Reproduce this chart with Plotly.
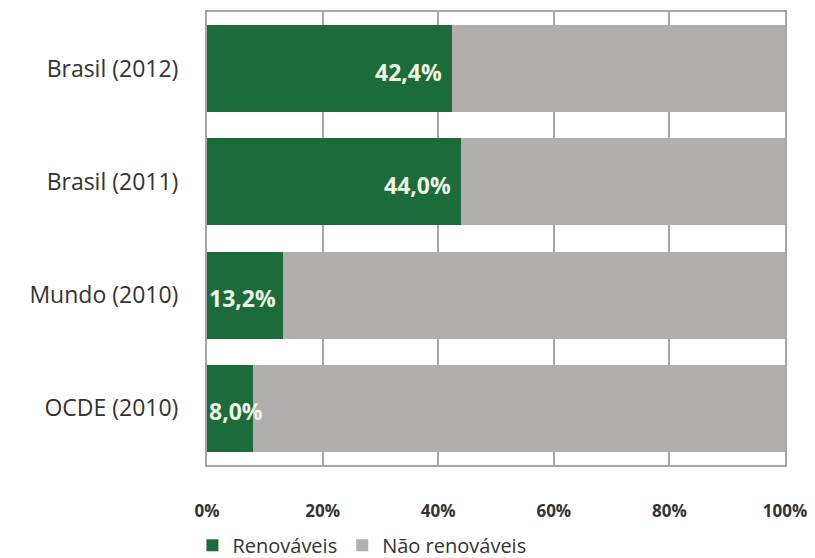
import plotly.graph_objects as go

categories = ["Brasil (2012)", "Brasil (2011)", "Mundo (2010)", "OCDE (2010)"]
renovaveis = [42.4, 44.0, 13.2, 8.0]
nao_renovaveis = [100 - v for v in renovaveis]
labels = ["42,4%", "44,0%", "13,2%", "8,0%"]
tick_vals = [0, 20, 40, 60, 80, 100]
tick_text = ["0%", "20%", "40%", "60%", "80%", "100%"]

GREEN = "#1b6b3b"
GRAY = "#b3aeae"
FONT = "Open Sans"

fig = go.Figure()
fig.add_trace(go.Bar(y=categories, x=renovaveis, orientation="h", name="Renováveis",
                     marker=dict(color=GREEN, line=dict(width=0))))
fig.add_trace(go.Bar(y=categories, x=nao_renovaveis, orientation="h", name="Não renováveis",
                     marker=dict(color=GRAY, line=dict(width=0))))

for cat, v, lab in zip(categories, renovaveis, labels):
    big = v > 20
    fig.add_annotation(x=v if big else 0, y=cat, text=f"<b>{lab}</b>", showarrow=False,
                       xanchor="right" if big else "left", xshift=-8 if big else 0,
                       yshift=-3,
                       font=dict(family=FONT, size=23, color="#eef3e2"))

fig.update_layout(
    barmode="stack", bargap=0.23,
    width=815, height=558,
    margin=dict(l=207, r=30, t=12, b=93, autoexpand=False),
    paper_bgcolor="white", plot_bgcolor="white",
    font=dict(family=FONT, color="#333333"),
    legend=dict(orientation="h", x=0.268, xanchor="center", y=-0.177, yanchor="middle",
                font=dict(size=20, color="#333333"), itemwidth=30, traceorder="normal"),
    showlegend=True,
)
fig.update_xaxes(range=[0, 100], tickvals=tick_vals, ticktext=[f"<b>{t}</b>" for t in tick_text],
                 showgrid=True, gridcolor="#a6a6a6", gridwidth=1.5,
                 showline=True, mirror=True, linecolor="#a6a6a6", linewidth=2,
                 ticks="", ticklabelstandoff=30, tickfont=dict(size=17, color="#333333"),
                 zeroline=False, fixedrange=True)
fig.update_yaxes(categoryorder="array", categoryarray=categories[::-1],
                 showline=True, mirror=True, linecolor="#a6a6a6", linewidth=2,
                 ticks="", ticklabelstandoff=22, tickfont=dict(size=23, color="#333333"),
                 showgrid=False, fixedrange=True)

fig.write_html("out.html")
